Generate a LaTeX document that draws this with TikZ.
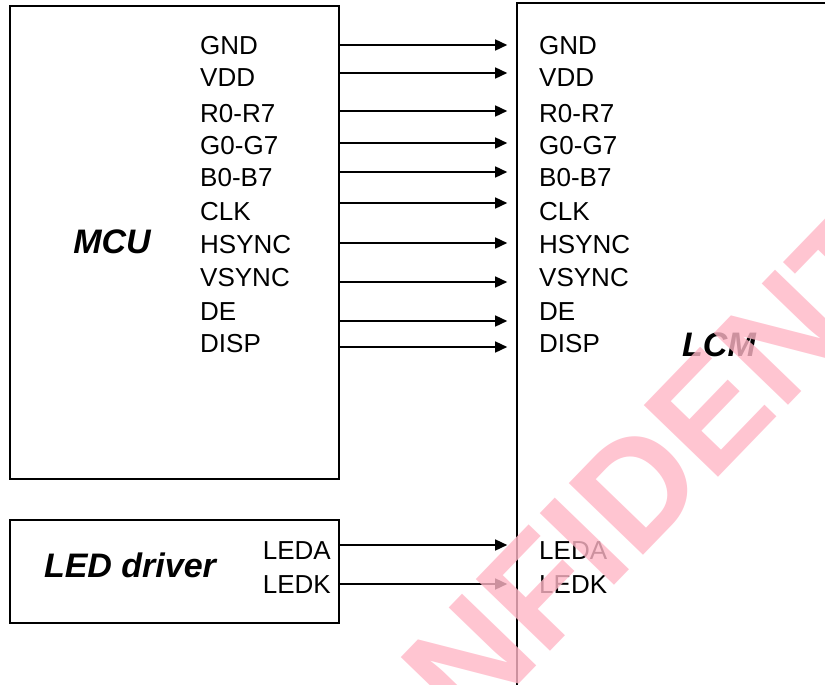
\documentclass[tikz,border=0pt]{standalone}
\usepackage{fontspec}
\setmainfont{Liberation Sans}
\usetikzlibrary{arrows.meta}
\definecolor{wmpink}{RGB}{255,182,198}

\tikzset{
  box/.style={draw, line width=1.6pt, inner sep=0pt},
  pin/.style={font=\fontsize{26}{30}\selectfont, inner sep=0pt},
  title/.style={font=\fontsize{34}{40}\selectfont\bfseries\itshape, inner sep=0pt},
  sig/.style={line width=1.5pt, -{Triangle[length=12pt,width=11pt]}, shorten >=9pt},
}

\begin{document}
\begin{tikzpicture}[x=1pt, y=-1pt]
\useasboundingbox (0,0) rectangle (825,685);
\clip (0,0) rectangle (825,685);
% blocks
\node[box, minimum width=329pt, minimum height=473pt] (mcu) at (174.5,242.5) {};
\node[box, minimum width=329pt, minimum height=103pt] (led) at (174.5,571.5) {};
\node[box, minimum width=400pt, minimum height=800pt] (lcm) at (717,403) {};
\node[title] (mcutxt) at (112,242) {MCU};
\node[title] (ledtxt) at (130,565) {LED driver};
\node[title] (lcmtxt) at (719,345) {LCM};
% RGB interface
\foreach \sig/\ya/\yt [count=\i] in {GND/45/46, VDD/73/78, R0-R7/111/114, G0-G7/143/146, B0-B7/172/178, CLK/203/212, HSYNC/243/245, VSYNC/282/278, DE/321/312, DISP/347/344}{
  \node[pin, anchor=west] (mp\i) at (200,\yt) {\sig};
  \node[pin, anchor=west] (lp\i) at (539,\yt) {\sig};
  \coordinate (w\i) at (0,\ya);
  \draw[sig] (mcu.east |- w\i) -- (lcm.west |- w\i);
}
% backlight
\foreach \sig/\ya/\yt [count=\i] in {LEDA/545/551, LEDK/584/585}{
  \node[pin, anchor=east] (dp\i) at (331,\yt) {\sig};
  \node[pin, anchor=west] (bp\i) at (539,\yt) {\sig};
  \coordinate (v\i) at (0,\ya);
  \draw[sig] (led.east |- v\i) -- (lcm.west |- v\i);
}
\node[font=\fontsize{150}{150}\selectfont\bfseries, text=wmpink, text opacity=0.8, rotate=46, inner sep=0pt] (wm) at (663,461) {CONFIDENTIAL};
\end{tikzpicture}
\end{document}
